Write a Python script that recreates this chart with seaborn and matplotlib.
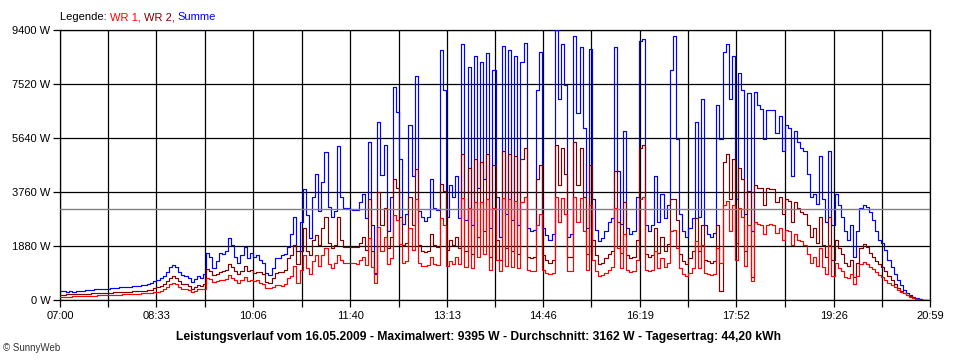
import numpy as np
import pandas as pd
import matplotlib
matplotlib.use("Agg")
import matplotlib.pyplot as plt
import seaborn as sns

# ---------------- data ----------------
start_time = "07:00"
sample_minutes = 3

summe = [
    300, 300, 290, 300, 290, 310, 320, 330, 340, 350,
    360, 370, 375, 380, 390, 400, 410, 420, 430, 440,
    450, 460, 470, 480, 490, 500, 520, 530, 560, 600,
    650, 700, 760, 850, 980, 1150, 1220, 1150, 990, 880,
    840, 760, 620, 720, 820, 780, 900, 1650, 1500, 1120,
    1350, 1650, 1600, 1700, 2150, 1900, 1500, 1300, 1550, 1850,
    1450, 1650, 1500, 1550, 1400, 1300, 950, 880, 1100, 1450,
    1450, 1550, 1600, 1850, 2300, 2900, 1700, 2700, 3850, 2950,
    2150, 3600, 4400, 3100, 4100, 5150, 3250, 2900, 3100, 5350,
    3600, 3200, 3200, 3180, 3150, 3130, 3400, 3700, 2850, 5500,
    2600, 900, 6200, 4350, 5400, 2400, 3600, 7400, 6550, 4900,
    2650, 3000, 6100, 4300, 7800, 3100, 2900, 2750, 2900, 4200,
    3200, 3150, 8700, 7300, 2900, 4000, 3600, 4300, 2850, 8900,
    2800, 8100, 2600, 8500, 3900, 8300, 4200, 8600, 2500, 8000,
    3600, 2200, 8850, 3000, 8700, 2800, 8500, 2600, 8300, 8950,
    2500, 2400, 2450, 7300, 8650, 2500, 2250, 2100, 2300, 9390,
    7000, 8900, 7500, 2200, 2300, 9200, 6500, 8800, 6000, 2500,
    8750, 3500, 2450, 2050, 2150, 2400, 2700, 2850, 8800, 4500,
    2650, 5900, 2500, 2300, 2400, 3600, 9000, 9100, 2600, 2400,
    2600, 4300, 2700, 3700, 2850, 3300, 8000, 9200, 5600, 3000,
    2400, 2200, 2500, 2850, 6200, 2900, 7000, 2600, 2300, 2200,
    2350, 6800, 5600, 8650, 8900, 7000, 8500, 3500, 7900, 7300,
    3000, 7200, 2400, 7250, 6800, 6650, 5600, 6600, 6600, 6600,
    5800, 6400, 5200, 6100, 6000, 4300, 5900, 5500, 5300, 5200,
    4400, 3600, 3700, 3350, 5000, 3500, 2700, 5200, 2600, 3700,
    3300, 2900, 2400, 2100, 2600, 1500, 2400, 3200, 3300, 3250,
    3050, 2800, 2400, 2100, 2000, 1750, 1400, 1150, 900, 700,
    520, 360, 260, 180, 120, 70, 30, 0, 0, 0,
]

wr2 = [
    190, 190, 195, 200, 200, 205, 210, 215, 220, 225,
    230, 235, 240, 245, 250, 255, 260, 265, 270, 275,
    280, 285, 290, 300, 305, 310, 320, 330, 340, 350,
    420, 460, 490, 560, 650, 780, 830, 780, 650, 560,
    540, 480, 400, 450, 520, 500, 560, 1080, 1000, 860,
    900, 980, 1000, 1050, 1250, 1150, 1000, 920, 1000, 1200,
    1000, 1050, 950, 980, 960, 900, 620, 600, 750, 950,
    960, 980, 1050, 1450, 1550, 1900, 1250, 1700, 2500, 1700,
    1550, 2100, 2250, 1900, 2500, 2900, 2000, 1800, 1900, 2900,
    2100, 1860, 1850, 1850, 1840, 1830, 2000, 2200, 1750, 3500,
    1700, 950, 3750, 2600, 3200, 1800, 2200, 4200, 3900, 2900,
    1900, 2000, 3600, 2600, 4550, 1900, 1700, 1680, 1700, 2300,
    1900, 1850, 4050, 3800, 1750, 2100, 1900, 2200, 1800, 5100,
    1700, 4600, 1600, 4900, 2200, 4800, 2400, 5100, 1500, 4700,
    2100, 1400, 5200, 1800, 5100, 1700, 5000, 1600, 4900, 5300,
    1500, 1450, 1500, 4200, 4700, 1550, 1400, 1300, 1400, 5400,
    4000, 5300, 4400, 1500, 1500, 5500, 4000, 5300, 3600, 1600,
    4700, 2100, 1550, 1250, 1300, 1450, 1600, 1700, 4500, 2700,
    1650, 3400, 1550, 1450, 1500, 2100, 5300, 5400, 1600, 1500,
    1550, 2500, 1650, 2200, 1700, 1950, 3500, 3500, 2800, 1600,
    1350, 1250, 1450, 1700, 2850, 1700, 2600, 1400, 1350, 1300,
    1350, 2600, 300, 4800, 5100, 3500, 4900, 2000, 4600, 4200,
    1700, 3800, 800, 4000, 3900, 3900, 3300, 3900, 3880, 3850,
    3400, 3600, 3000, 3500, 3450, 2700, 3400, 3200, 3050, 3000,
    2600, 2200, 2500, 2000, 2900, 1900, 1500, 2900, 1400, 2100,
    1800, 1600, 1300, 1200, 1400, 800, 1300, 1800, 1950, 1850,
    1650, 1500, 1350, 1250, 1150, 1000, 850, 700, 560, 420,
    320, 250, 180, 130, 90, 50, 20, 0, 0, 0,
]

wr1 = [
    110, 115, 120, 120, 125, 130, 135, 140, 145, 150,
    150, 155, 160, 165, 170, 170, 175, 180, 185, 190,
    195, 200, 205, 210, 215, 220, 230, 240, 250, 260,
    275, 290, 330, 390, 460, 550, 580, 540, 460, 400,
    380, 340, 290, 320, 400, 370, 400, 760, 720, 620,
    650, 700, 700, 740, 860, 780, 680, 600, 680, 800,
    660, 700, 650, 680, 600, 560, 420, 410, 460, 520,
    510, 500, 560, 780, 820, 1200, 600, 1050, 1550, 1100,
    900, 1350, 1550, 1200, 1550, 1800, 1250, 1100, 1300, 1560,
    1400, 1290, 1280, 1280, 1280, 1270, 1400, 1500, 1220, 2150,
    1150, 580, 2550, 1700, 2200, 1250, 1450, 2950, 2800, 1950,
    1300, 1350, 2500, 1750, 3500, 1300, 1200, 1180, 1220, 1500,
    1250, 1230, 2850, 2600, 1200, 1350, 1250, 1500, 1250, 3550,
    1150, 3200, 1100, 3400, 1500, 3400, 1600, 3500, 1050, 3200,
    1400, 1000, 3550, 1200, 3500, 1150, 3450, 1100, 3400, 3600,
    1050, 1000, 1000, 2600, 3000, 1050, 950, 900, 950, 3600,
    2700, 3550, 3000, 1000, 1000, 3600, 2700, 3550, 2400, 1050,
    3300, 1400, 1000, 850, 880, 950, 1050, 1150, 3200, 1800,
    1100, 2300, 1050, 980, 1000, 1400, 3500, 3600, 1050, 1000,
    1050, 1700, 1100, 1450, 1150, 1300, 2400, 2450, 1800, 1100,
    900, 850, 950, 1100, 2050, 1100, 1900, 950, 900, 880,
    900, 1800, 1300, 3300, 3450, 2400, 3300, 1400, 3200, 2900,
    1200, 2600, 650, 2700, 2650, 2600, 2300, 2600, 2650, 2620,
    2350, 2500, 2100, 2450, 2400, 1900, 2300, 2100, 2050, 1900,
    1600, 1300, 1500, 1200, 1800, 1150, 900, 1900, 850, 1300,
    1100, 1000, 800, 750, 900, 550, 850, 1250, 1330, 1250,
    1150, 1080, 980, 880, 800, 700, 600, 520, 440, 360,
    290, 230, 160, 110, 70, 40, 15, 0, 0, 0,
]

x_labels = ["07:00", "08:33", "10:06", "11:40", "13:13",
            "14:46", "16:19", "17:52", "19:26", "20:59"]
y_ticks = [0, 1880, 3760, 5640, 7520, 9400]
average_w = 3162
title_text = ("Leistungsverlauf vom 16.05.2009 - Maximalwert: 9395 W - "
              "Durchschnitt: 3162 W - Tagesertrag: 44,20 kWh")
credit_text = "\u00a9 SunnyWeb"

assert len(summe) == len(wr1) == len(wr2)

# ---------------- build ----------------
def to_min(s):
    h, m = s.split(":")
    return int(h) * 60 + int(m)

t0 = to_min(start_time)
minutes = np.arange(len(summe)) * sample_minutes
df = pd.DataFrame({"t": minutes, "WR 1": wr1, "WR 2": wr2, "Summe": summe})

major_pos = [to_min(s) - t0 for s in x_labels]
minor_pos = [(a + b) / 2 for a, b in zip(major_pos[:-1], major_pos[1:])]

sns.set_theme(style="white")
plt.rcParams["font.family"] = ["Liberation Sans", "DejaVu Sans"]

W, H = 960, 360
fig = plt.figure(figsize=(W / 100, H / 100), dpi=100)
fig.patch.set_facecolor("white")
ax = fig.add_axes([60 / W, 60 / H, 870 / W, 270 / H])
ax.set_facecolor("white")

colors = {"Summe": "#0000ff", "WR 2": "#800000", "WR 1": "#ff0000"}
for name in ["Summe", "WR 2", "WR 1"]:
    sns.lineplot(data=df, x="t", y=name, color=colors[name], linewidth=0.85,
                 estimator=None, drawstyle="steps-post", ax=ax, zorder=3)

ax.axhline(average_w, color="#808080", linewidth=1.0, zorder=4)

ax.set_xlim(major_pos[0], major_pos[-1])
ax.set_ylim(y_ticks[0], y_ticks[-1])
ax.set_xticks(major_pos)
ax.set_xticklabels(x_labels)
ax.set_xticks(minor_pos, minor=True)
ax.set_yticks(y_ticks)
ax.set_yticklabels([f"{v} W" for v in y_ticks])
ax.set_xlabel("")
ax.set_ylabel("")

ax.set_axisbelow(True)
ax.grid(which="both", axis="x", color="black", linewidth=0.9)
ax.grid(which="major", axis="y", color="black", linewidth=0.9)
for sp in ax.spines.values():
    sp.set_color("black")
    sp.set_linewidth(0.9)
    sp.set_visible(True)

ax.tick_params(axis="both", which="both", direction="out", length=5,
               width=0.9, color="black", labelsize=8, labelcolor="black")
ax.tick_params(axis="x", which="both", bottom=True, pad=3)
ax.tick_params(axis="y", left=True, pad=2)

# legend line at top
prev = fig.text(60 / W, 1 - 17 / H, "Legende: ", fontsize=8, color="black",
                va="center", ha="left")
for name, txt in [("WR 1", "WR 1, "), ("WR 2", "WR 2, "), ("Summe", "Summe")]:
    prev = ax.annotate(txt, xy=(1, 0.5), xycoords=prev, va="center",
                       ha="left", fontsize=8, color=colors[name],
                       annotation_clip=False)

fig.text(478 / W, 1 - 337 / H, title_text, fontsize=8.7, fontweight="bold",
         ha="center", va="center", color="black")
fig.text(3 / W, 1 - 348 / H, credit_text, fontsize=7, ha="left", va="center",
         color="#333333")

fig.savefig("out.png", dpi=100, facecolor="white")
